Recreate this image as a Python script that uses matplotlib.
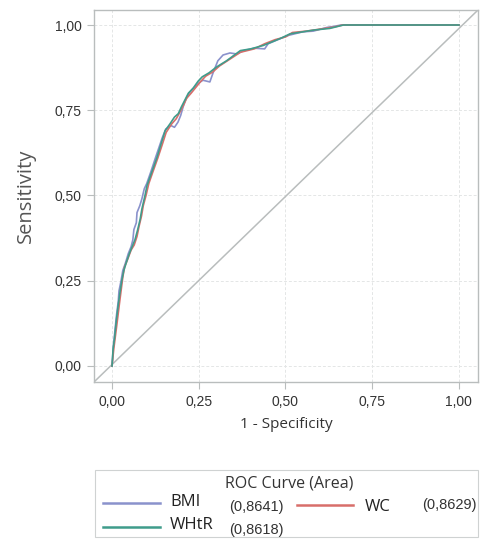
import matplotlib
matplotlib.use("Agg")
import matplotlib.pyplot as plt
from matplotlib.patches import Rectangle

# ROC curves: (1 - specificity, sensitivity)
whtr_fpr = [0, 0.003, 0.007, 0.012, 0.018, 0.022, 0.028, 0.034, 0.040, 0.050, 0.058, 0.066,
            0.074, 0.081, 0.086, 0.095, 0.101, 0.115, 0.129, 0.141, 0.153, 0.167, 0.180,
            0.191, 0.200, 0.210, 0.220, 0.234, 0.248, 0.260, 0.280, 0.300, 0.330, 0.370,
            0.400, 0.436, 0.460, 0.484, 0.513, 0.550, 0.580, 0.628, 0.667, 1.0]
whtr_tpr = [0, 0.05, 0.08, 0.13, 0.18, 0.21, 0.25, 0.28, 0.30, 0.33, 0.35, 0.37,
            0.40, 0.43, 0.46, 0.50, 0.53, 0.57, 0.61, 0.65, 0.69, 0.71, 0.73,
            0.74, 0.76, 0.78, 0.80, 0.815, 0.835, 0.848, 0.86, 0.876, 0.895, 0.925,
            0.93, 0.94, 0.95, 0.96, 0.974, 0.98, 0.985, 0.99, 1.0, 1.0]

wc_fpr = [0, 0.005, 0.010, 0.015, 0.021, 0.026, 0.031, 0.036, 0.044, 0.055, 0.064, 0.072,
          0.078, 0.085, 0.090, 0.098, 0.106, 0.118, 0.132, 0.145, 0.156, 0.172, 0.185,
          0.196, 0.206, 0.215, 0.228, 0.240, 0.256, 0.270, 0.290, 0.310, 0.340, 0.370,
          0.410, 0.440, 0.470, 0.500, 0.520, 0.560, 0.600, 0.640, 0.665, 1.0]
wc_tpr = [0, 0.05, 0.09, 0.13, 0.18, 0.22, 0.26, 0.29, 0.31, 0.34, 0.355, 0.38,
          0.41, 0.44, 0.47, 0.50, 0.535, 0.57, 0.61, 0.65, 0.685, 0.71, 0.725,
          0.745, 0.765, 0.785, 0.80, 0.815, 0.835, 0.85, 0.862, 0.88, 0.90, 0.92,
          0.93, 0.945, 0.957, 0.965, 0.978, 0.982, 0.988, 0.994, 1.0, 1.0]

bmi_fpr = [0, 0.004, 0.008, 0.013, 0.018, 0.020, 0.026, 0.031, 0.038, 0.047, 0.055, 0.060,
           0.063, 0.070, 0.072, 0.080, 0.086, 0.093, 0.100, 0.112, 0.125, 0.135, 0.145,
           0.155, 0.170, 0.180, 0.190, 0.198, 0.205, 0.212, 0.222, 0.235, 0.250, 0.262,
           0.282, 0.291, 0.305, 0.320, 0.340, 0.360, 0.380, 0.410, 0.440, 0.450, 0.480,
           0.510, 0.550, 0.580, 0.620, 0.640, 0.660, 1.0]
bmi_tpr = [0, 0.06, 0.10, 0.15, 0.19, 0.22, 0.25, 0.28, 0.30, 0.33, 0.35, 0.37,
           0.40, 0.42, 0.45, 0.47, 0.49, 0.52, 0.535, 0.57, 0.61, 0.64, 0.67,
           0.695, 0.705, 0.70, 0.715, 0.735, 0.76, 0.78, 0.80, 0.815, 0.83, 0.838,
           0.833, 0.859, 0.895, 0.912, 0.918, 0.915, 0.925, 0.932, 0.93, 0.945, 0.958,
           0.97, 0.98, 0.982, 0.993, 0.996, 1.0, 1.0]

auc_bmi = 0.8641
auc_whtr = 0.8618
auc_wc = 0.8629

ticks = [0, 0.25, 0.5, 0.75, 1.0]
tick_labels = ["0,00", "0,25", "0,50", "0,75", "1,00"]

c_bmi = "#8a92cc"
c_whtr = "#3f9c8b"
c_wc = "#d86e6a"
c_frame = "#b9bdbd"

num_font = "Liberation Sans"
txt_font = "Open Sans"

def auc_text(v):
    return "(" + f"{v:.4f}".replace(".", ",") + ")"

fig = plt.figure(figsize=(4.8, 5.39), dpi=100)
ax = fig.add_axes([94 / 480, 1 - 382 / 539, 384 / 480, 372 / 539])

ax.plot([-0.052, 1.055], [-0.047, 1.044], color=c_frame, lw=1.1, zorder=1)
ax.plot(bmi_fpr, bmi_tpr, color=c_bmi, lw=1.2, zorder=3)
ax.plot(wc_fpr, wc_tpr, color=c_wc, lw=1.2, zorder=4)
ax.plot(whtr_fpr, whtr_tpr, color=c_whtr, lw=1.2, zorder=5)

ax.set_xlim(-0.052, 1.055)
ax.set_ylim(-0.047, 1.044)
ax.set_xticks(ticks)
ax.set_yticks(ticks)
ax.set_xticklabels(tick_labels, family=num_font, fontsize=10, color="#333333")
ax.set_yticklabels(tick_labels, family=num_font, fontsize=10, color="#333333")
ax.tick_params(length=5, width=0.8, color=c_frame, pad=4)
ax.grid(True, color="#e4e6e6", lw=0.7, ls=(0, (3, 2)))
ax.set_axisbelow(True)
for s in ax.spines.values():
    s.set_color(c_frame)
    s.set_linewidth(1.0)

ax.set_xlabel("1 - Specificity", family=txt_font, fontsize=11, color="#333333", labelpad=6)
ax.set_ylabel("Sensitivity", family=txt_font, fontsize=14.5, color="#555555", labelpad=13)

# legend drawn in pixel space below the plot
leg = fig.add_axes([0, 0, 1, 1], zorder=-1)
leg.set_xlim(0, 480)
leg.set_ylim(539, 0)
leg.axis("off")
leg.add_patch(Rectangle((95, 470), 383, 67, fill=False, ec="#cfd2d2", lw=0.8))
leg.text(289, 483, "ROC Curve (Area)", family=txt_font, fontsize=11.5, color="#333333",
         ha="center", va="center")
leg.plot([103, 160], [503, 503], color=c_bmi, lw=1.8)
leg.text(170, 502, "BMI", family=txt_font, fontsize=12, color="#222222", va="center")
leg.text(229, 507, auc_text(auc_bmi), family=num_font, fontsize=10.5, color="#333333", va="center")
leg.plot([297, 353], [505, 505], color=c_wc, lw=1.8)
leg.text(365, 507, "WC", family=txt_font, fontsize=12, color="#222222", va="center")
leg.text(422, 505, auc_text(auc_wc), family=num_font, fontsize=10.5, color="#333333", va="center")
leg.plot([103, 160], [527, 527], color=c_whtr, lw=1.8)
leg.text(170, 525, "WHtR", family=txt_font, fontsize=12, color="#222222", va="center")
leg.text(229, 530, auc_text(auc_whtr), family=num_font, fontsize=10.5, color="#333333", va="center")

fig.savefig("out.png", dpi=100)
